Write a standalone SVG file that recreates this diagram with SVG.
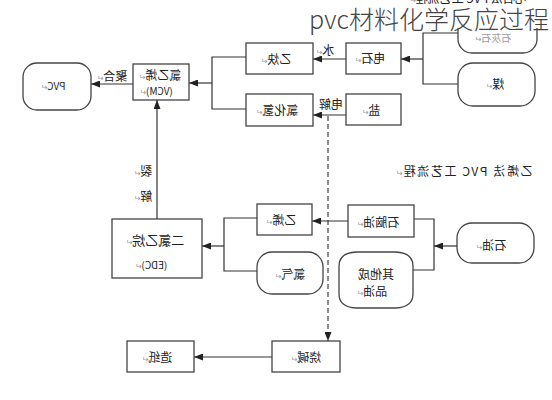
<svg xmlns="http://www.w3.org/2000/svg" width="552" height="400" viewBox="0 0 552 400">
<style>
.b{fill:#fff;stroke:#444;stroke-width:1.3}
.c{fill:none;stroke:#333;stroke-width:1.2}
.d{fill:none;stroke:#444;stroke-width:1.2;stroke-dasharray:5 3}
text{font-family:"Noto Sans CJK SC","DejaVu Sans",sans-serif;font-size:12px;fill:#222;text-anchor:middle}
.m{transform-box:fill-box;transform-origin:center;transform:scaleX(-1)}
.r{font-family:"DejaVu Sans",sans-serif;font-size:8px;fill:#999}
.l{font-size:10px}
</style>
<defs>
<marker id="ah" markerUnits="userSpaceOnUse" markerWidth="9" markerHeight="7" refX="9" refY="3.5" orient="auto">
<path d="M0,0 L9,3.5 L0,7 Z" fill="#222"/>
</marker>
</defs>
<rect width="552" height="400" fill="#fff"/>
<text class="m" x="468" y="3">电石法 PVC 工艺流程<tspan class="r">↵</tspan></text>
<g id="connectors">
<path class="c" d="M458,33 H423 V84 H458"/>
<path class="c" d="M423,59 H401" marker-end="url(#ah)"/>
<path class="c" d="M346,59 H313" marker-end="url(#ah)"/>
<path class="c" d="M346,115 H313" marker-end="url(#ah)"/>
<path class="d" d="M328,116 V341" marker-end="url(#ah)"/>
<path class="c" d="M246,57 H212 V109 H246"/>
<path class="c" d="M212,83 H189" marker-end="url(#ah)"/>
<path class="c" d="M133,84 H91" marker-end="url(#ah)"/>
<path class="c" d="M157,219 V100" marker-end="url(#ah)"/>
<path class="c" d="M257,218 H224 V271 H257"/>
<path class="c" d="M224,246 H202" marker-end="url(#ah)"/>
<path class="c" d="M348,221 H312" marker-end="url(#ah)"/>
<path class="c" d="M414,219 H434 V270 H413"/>
<path class="c" d="M457,246 H434" marker-end="url(#ah)"/>
<path class="c" d="M272,357 H194" marker-end="url(#ah)"/>
<text class="m" x="112" y="81">聚合<tspan class="r">↵</tspan></text>
<text class="m" x="325" y="55">水<tspan class="r">↵</tspan></text>
<text class="m" x="331" y="109">电解</text>
<text class="m" x="143" y="176">裂<tspan class="r">↵</tspan></text>
<text class="m" x="143" y="201">解<tspan class="r">↵</tspan></text>
</g>
<g id="n-limestone"><rect class="b" x="458" y="12" width="79" height="41" rx="14"/><text class="m" x="493" y="42" style="fill:#999;font-size:10px">石灰石<tspan class="r">↵</tspan></text></g>
<rect x="300" y="4" width="252" height="24" fill="#fff"/>
<g id="n-coal"><rect class="b" x="458" y="63" width="77" height="43" rx="15"/><text class="m" x="495" y="89">煤<tspan class="r">↵</tspan></text></g>
<g id="n-carbide"><rect class="b" x="346" y="43" width="55" height="31"/><text class="m" x="370" y="63">电石<tspan class="r">↵</tspan></text></g>
<g id="n-salt"><rect class="b" x="346" y="94" width="55" height="31"/><text class="m" x="371" y="115">盐<tspan class="r">↵</tspan></text></g>
<g id="n-acetylene"><rect class="b" x="246" y="43" width="67" height="31"/><text class="m" x="276" y="64">乙炔<tspan class="r">↵</tspan></text></g>
<g id="n-hcl"><rect class="b" x="246" y="94" width="67" height="32"/><text class="m" x="277" y="115">氯化氢<tspan class="r">↵</tspan></text></g>
<g id="n-vcm"><rect class="b" x="133" y="64" width="56" height="36"/><text class="m" x="160" y="80">氯乙烯<tspan class="r">↵</tspan></text><text class="m l" x="156" y="95">(VCM)<tspan class="r">↵</tspan></text></g>
<g id="n-pvc"><rect class="b" x="23" y="63" width="68" height="47" rx="14"/><text class="m l" x="53" y="90">PVC<tspan class="r">↵</tspan></text></g>
<g id="n-edc"><rect class="b" x="112" y="219" width="90" height="59"/><text class="m" x="155" y="245" style="font-size:13px">二氯乙烷<tspan class="r">↵</tspan></text><text class="m l" x="151" y="269">(EDC)<tspan class="r">↵</tspan></text></g>
<g id="n-ethylene"><rect class="b" x="257" y="204" width="55" height="31"/><text class="m" x="281" y="225">乙烯<tspan class="r">↵</tspan></text></g>
<g id="n-chlorine"><rect class="b" x="257" y="252" width="66" height="42" rx="15"/><text class="m" x="290" y="279">氯气<tspan class="r">↵</tspan></text></g>
<g id="n-naphtha"><rect class="b" x="348" y="205" width="66" height="32"/><text class="m" x="378" y="227">石脑油<tspan class="r">↵</tspan></text></g>
<g id="n-otheroil"><path class="b" d="M339,266 Q339,253 356,252 L396,252 Q413,253 413,266 L413,294 Q413,307 396,308 L356,308 Q339,307 339,294 Z"/><text class="m" x="376" y="279">其他成</text><text class="m" x="372" y="296">品油<tspan class="r">↵</tspan></text></g>
<g id="n-oil"><rect class="b" x="457" y="223" width="77" height="40" rx="15"/><text class="m" x="491" y="250">石油<tspan class="r">↵</tspan></text></g>
<g id="n-caustic"><rect class="b" x="272" y="341" width="68" height="31"/><text class="m" x="306" y="362">烧碱<tspan class="r">↵</tspan></text></g>
<g id="n-paper"><rect class="b" x="127" y="341" width="67" height="31"/><text class="m" x="157" y="362">造纸<tspan class="r">↵</tspan></text></g>
<text class="m" x="464" y="176" textLength="137" lengthAdjust="spacing">乙烯法 PVC 工艺流程<tspan class="r">↵</tspan></text>
<text x="429" y="29" style="font-size:25px;fill:#444;font-weight:300">pvc材料化学反应过程</text>
</svg>
